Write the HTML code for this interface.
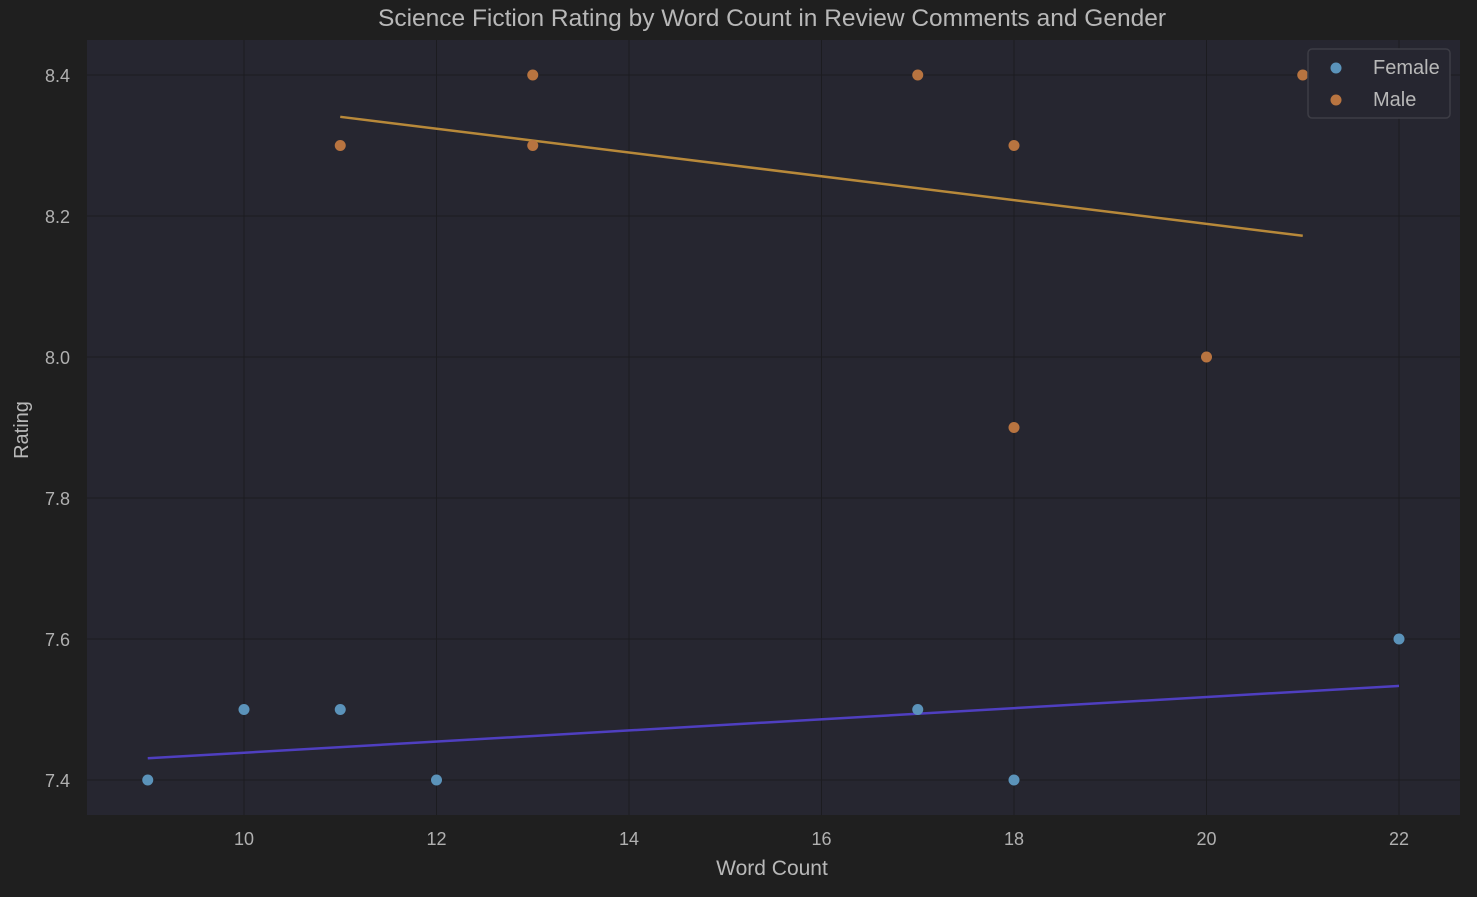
<!DOCTYPE html>
<html><head><meta charset="utf-8"><style>
body{margin:0;background:#1f1f1f;}
svg{display:block;font-family:"Liberation Sans",sans-serif;}
</style></head><body>
<svg id="chart" width="1477" height="897">
<rect width="1477" height="897" fill="#1f1f1f"/>
<rect x="87" y="40" width="1373" height="775" fill="#262630"/>
<g id="grid"></g>
<g id="marks"></g>
<text x="772" y="26" text-anchor="middle" fill="#b8b8b8" font-size="24.5">Science Fiction Rating by Word Count in Review Comments and Gender</text>
<text x="772" y="875" text-anchor="middle" fill="#b8b8b8" font-size="21">Word Count</text>
<text transform="translate(28,430) rotate(-90)" text-anchor="middle" fill="#b8b8b8" font-size="20">Rating</text>
<g>
<rect x="1308" y="49" width="142" height="69" rx="4" fill="#262630" stroke="#3d3d45" stroke-width="1.5"/>
<circle cx="1336" cy="68" r="5.5" fill="#5b93ba"/>
<text x="1373" y="74" fill="#b8b8b8" font-size="20">Female</text>
<circle cx="1336" cy="100" r="5.5" fill="#b87440"/>
<text x="1373" y="106" fill="#b8b8b8" font-size="20">Male</text>
</g>
</svg>
<script>
const xTicks=[10,12,14,16,18,20,22];
const yTicks=[7.4,7.6,7.8,8.0,8.2,8.4];
const femaleX=[9,10,11,12,17,18,22];
const femaleY=[7.4,7.5,7.5,7.4,7.5,7.4,7.6];
const maleX=[11,13,13,17,18,18,20,21];
const maleY=[8.3,8.4,8.3,8.4,8.3,7.9,8.0,8.4];
const NS='http://www.w3.org/2000/svg';
function sx(v){return 244+(v-10)*96.25;}
function sy(v){return 780-(v-7.4)*705;}
const grid=document.getElementById('grid'),marks=document.getElementById('marks'),svg=document.getElementById('chart');
function mk(t,a,p){const e=document.createElementNS(NS,t);for(const k in a)e.setAttribute(k,a[k]);(p||svg).appendChild(e);return e;}
xTicks.forEach(t=>{
 const l=mk('line',{x1:sx(t),x2:sx(t),y1:40,y2:815,stroke:'#1c1c20','stroke-width':1},grid);
 
 
 const tx=mk('text',{x:sx(t),y:845,'text-anchor':'middle',fill:'#b0b0b0','font-size':18},svg);
 tx.textContent=t;
 
 
});
yTicks.forEach(t=>{
 const l=mk('line',{x1:87,x2:1460,y1:sy(t),y2:sy(t),stroke:'#1c1c20','stroke-width':1},grid);
 
 
 const tx=mk('text',{x:70,y:sy(t)+7,'text-anchor':'end',fill:'#b0b0b0','font-size':18},svg);
 tx.textContent=t.toFixed(1);
 
 
});
function fit(xs,ys){const n=xs.length,mx=xs.reduce((a,b)=>a+b)/n,my=ys.reduce((a,b)=>a+b)/n;let sxy=0,sxx=0;xs.forEach((x,i)=>{sxy+=(x-mx)*(ys[i]-my);sxx+=(x-mx)*(x-mx);});const b=sxy/sxx;return x=>my+b*(x-mx);}
function series(xs,ys,col,lcol,name){
 const f=fit(xs,ys),x0=Math.min(...xs),x1=Math.max(...xs);
 const l=mk('line',{x1:sx(x0),y1:sy(f(x0)),x2:sx(x1),y2:sy(f(x1)),stroke:lcol,'stroke-width':2.5},marks);
 
 
 xs.forEach((x,i)=>{
  const c=mk('circle',{cx:sx(x),cy:sy(ys[i]),r:5.5,fill:col},marks);
  
  
 });
}
series(femaleX,femaleY,'#5b93ba','#4f3fc0','female');
series(maleX,maleY,'#b87440','#b8893a','male');
</script>
</body></html>
